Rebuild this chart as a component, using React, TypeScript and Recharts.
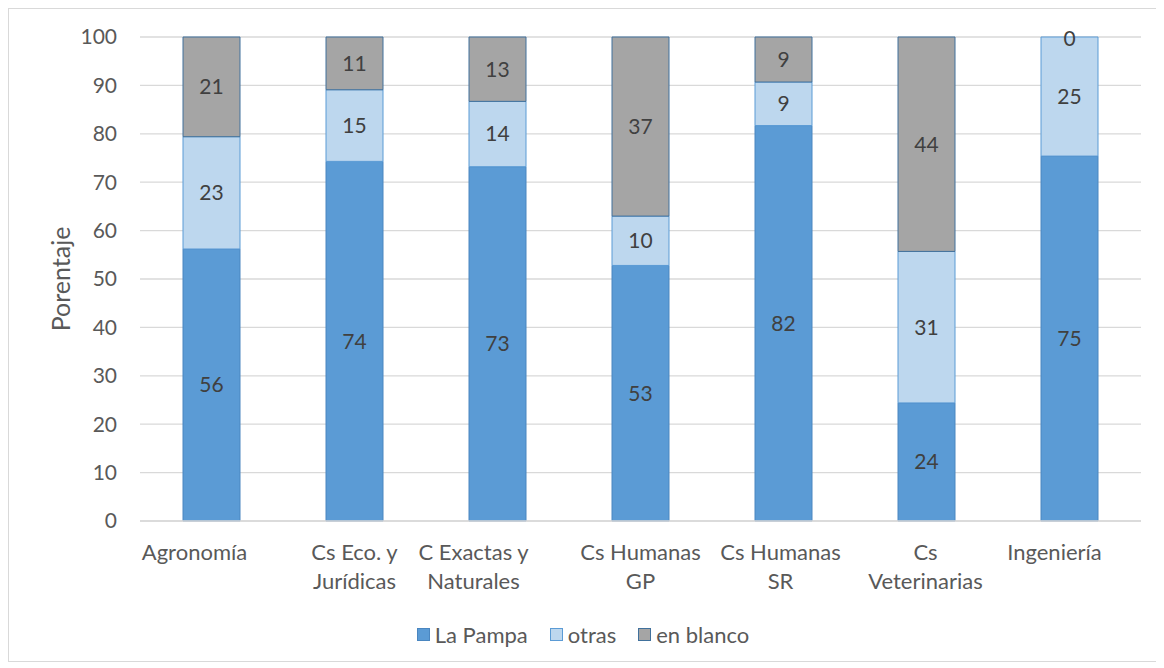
import React from "react";
import { BarChart, Bar, XAxis, YAxis, CartesianGrid, Legend, LabelList } from "recharts";

const categories = [
  "Agronomía",
  "Cs Eco. y Jurídicas",
  "C Exactas y Naturales",
  "Cs Humanas GP",
  "Cs Humanas SR",
  "Cs Veterinarias",
  "Ingeniería",
];
const tickLines: string[][] = [
  ["Agronomía"],
  ["Cs Eco. y", "Jurídicas"],
  ["C Exactas y", "Naturales"],
  ["Cs Humanas", "GP"],
  ["Cs Humanas", "SR"],
  ["Cs", "Veterinarias"],
  ["Ingeniería"],
];
const laPampa = [56.2, 74.3, 73.2, 52.8, 81.7, 24.4, 75.4];
const otras = [23.2, 14.8, 13.5, 10.2, 9.0, 31.3, 24.6];
const enBlanco = [20.6, 10.9, 13.3, 37.0, 9.3, 44.3, 0];
const yTicks = [0, 10, 20, 30, 40, 50, 60, 70, 80, 90, 100];

// label layout nudges (style only)
const tickDx = [-17, 0, -24, 0, -3, -1, -15];

const seriesNames = ["La Pampa", "otras", "en blanco"];
const seriesFill = ["#5B9BD5", "#BDD7EE", "#A5A5A5"];
const seriesStroke = ["#4A86C0", "#5B9BD5", "#41719C"];

const data = categories.map((c, i) => ({
  name: c,
  lp: laPampa[i],
  ot: otras[i],
  eb: enBlanco[i],
}));

const FONT = "Lato, 'Open Sans', sans-serif";
const TXT = "#595959";
const LBL = "#404040";

const XTick = (props: any) => {
  const { x, y, payload } = props;
  const idx = payload.index;
  const lines = tickLines[idx] || [String(payload.value)];
  const cx = x + (tickDx[idx] || 0);
  return (
    <text x={cx} y={y} textAnchor="middle" fill={TXT} fontSize={22} fontFamily={FONT}>
      {lines.map((l, i) => (
        <tspan key={i} x={cx} dy={i === 0 ? 31 : 29}>
          {l}
        </tspan>
      ))}
    </text>
  );
};

const LegendContent = () => (
  <div
    style={{
      display: "flex",
      justifyContent: "center",
      alignItems: "center",
      height: 24,
      fontFamily: FONT,
      fontSize: 22,
      color: TXT,
      paddingLeft: 16,
    }}
  >
    {seriesNames.map((n, i) => (
      <div key={n} style={{ display: "flex", alignItems: "center", marginRight: i < 2 ? 22 : 0 }}>
        <div
          style={{
            width: 11,
            height: 11,
            background: seriesFill[i],
            border: `1px solid ${seriesStroke[i]}`,
            marginRight: 5,
          }}
        />
        <span>{n}</span>
      </div>
    ))}
  </div>
);

const YLabel = (props: any) => {
  const vb = props.viewBox || { x: 0, y: 0, height: 0 };
  const cx = 51;
  const cy = vb.y + vb.height / 2;
  return (
    <text
      x={cx}
      y={cy}
      transform={`rotate(-90, ${cx}, ${cy})`}
      textAnchor="middle"
      dominantBaseline="central"
      fill={TXT}
      fontSize={25}
      fontFamily={FONT}
    >
      Porentaje
    </text>
  );
};

const labelFmt = (v: any) => Math.round(Number(v));

// draws the "en blanco" label where that segment has zero height (sits on top of "otras")
const ZeroTopLabel = (props: any) => {
  const { x, y, width, index } = props;
  const v = enBlanco[index];
  if (v !== 0) return null;
  return (
    <text
      x={x + width / 2}
      y={y}
      textAnchor="middle"
      dominantBaseline="central"
      fill={LBL}
      fontSize={21}
      fontFamily={FONT}
    >
      {labelFmt(v)}
    </text>
  );
};

export default function App() {
  return (
    <div
      style={{
        width: 1148,
        height: 652,
        border: "1px solid #d9d9d9",
        background: "#fff",
        position: "relative",
      }}
    >
      <BarChart
        width={1148}
        height={652}
        data={data}
        margin={{ top: 28, right: 16, bottom: 36, left: 0 }}
        barSize={57}
      >
        <CartesianGrid vertical={false} stroke="#d9d9d9" strokeWidth={1.3} />
        <XAxis
          dataKey="name"
          tick={<XTick />}
          tickLine={false}
          axisLine={{ stroke: "#d9d9d9", strokeWidth: 1.3 }}
          interval={0}
          height={80}
        />
        <YAxis
          width={131}
          domain={[0, 100]}
          ticks={yTicks}
          tickLine={false}
          axisLine={false}
          tickSize={6}
          tickMargin={17}
          tick={{ fill: TXT, fontSize: 21, fontFamily: FONT }}
          label={<YLabel />}
        />
        <Legend
          verticalAlign="bottom"
          height={24}
          content={<LegendContent />}
          wrapperStyle={{ bottom: 15 }}
        />
        <Bar dataKey="lp" name="La Pampa" stackId="a" fill={seriesFill[0]} stroke={seriesStroke[0]} strokeWidth={1} isAnimationActive={false}>
          <LabelList dataKey="lp" position="center" formatter={labelFmt} fill={LBL} fontSize={21} fontFamily={FONT} />
        </Bar>
        <Bar dataKey="ot" name="otras" stackId="a" fill={seriesFill[1]} stroke={seriesStroke[1]} strokeWidth={1} isAnimationActive={false}>
          <LabelList dataKey="ot" position="center" formatter={labelFmt} fill={LBL} fontSize={21} fontFamily={FONT} />
          <LabelList dataKey="eb" content={<ZeroTopLabel />} />
        </Bar>
        <Bar dataKey="eb" name="en blanco" stackId="a" fill={seriesFill[2]} stroke={seriesStroke[2]} strokeWidth={1} isAnimationActive={false}>
          <LabelList dataKey="eb" position="center" formatter={labelFmt} fill={LBL} fontSize={21} fontFamily={FONT} />
        </Bar>
      </BarChart>
    </div>
  );
}
